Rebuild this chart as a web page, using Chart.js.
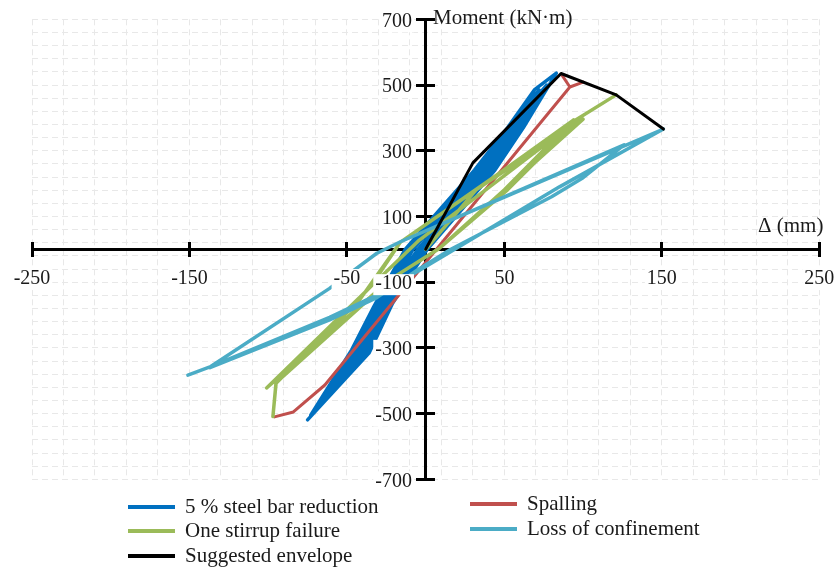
<!DOCTYPE html>
<html>
<head>
<meta charset="utf-8">
<style>
  html, body { margin: 0; padding: 0; background: #ffffff; }
  #wrap { width: 837px; height: 570px; }
</style>
<script src="https://cdn.jsdelivr.net/npm/chart.js@4.4.1/dist/chart.umd.min.js"></script>
</head>
<body>
<div id="wrap"><canvas id="chart" width="837" height="570"></canvas></div>
<script>
// Axis tick labels
const xTickLabels = [-250, -150, -50, 50, 150, 250];
const yTickLabels = [-700, -500, -300, -100, 100, 300, 500, 700];

// Series names (key order)
const seriesNames = ['5 % steel bar reduction', 'Spalling', 'One stirrup failure', 'Loss of confinement', 'Suggested envelope'];

// Δ (mm) / Moment (kN·m) paths for each damage case
const steelDelta = [
  0,
  12, 36, 57, 68,
  56, 38, 15, -5, -27, -42, -68,
  -43, -29, -8, 12, 35, 56, 70,
  58, 40, 17, -3, -25, -40, -70,
  -45, -31, -10, 10, 33, 54, 72,
  60, 42, 19, -1, -23, -38, -71,
  -46, -32, -11, 8, 32, 53, 77,
  61, 43, 20, 0, -22, -37, -73,
  -47, -33, -13, 7, 31, 52, 69, 83,
  62, 44, 21, 1, -21, -36, -75
];
const steelMoment = [
  0,
  110, 241, 370, 470,
  370, 241, 110, 0, -164, -316, -478,
  -306, -175, 0, 110, 241, 370, 475,
  370, 241, 110, 0, -164, -316, -485,
  -306, -175, 0, 110, 241, 370, 485,
  370, 241, 110, 0, -164, -316, -492,
  -306, -175, 0, 110, 241, 370, 500,
  370, 241, 110, 0, -164, -316, -505,
  -306, -175, 0, 110, 241, 370, 485, 536,
  370, 241, 110, 0, -164, -316, -519
];

const spallDelta  = [86.6, 91.6, 100, 91.6, -64, -84, -96];
const spallMoment = [530, 494, 509, 494, -413, -495, -510];

const stirrupDelta  = [0, 32, 94, 50, 9, -21, -95, -35, -4, 40, 97, 52, 9, -22, -101, -35, -16, 32, 100, 50, 8, -21, -95, -97, -95, -42, -16, 95, 121];
const stirrupMoment = [0, 181, 394, 181, 4, -87, -406, -114, 28, 188, 396, 181, 4, -90, -422, -114, 22, 181, 396, 181, 0, -87, -404, -509, -408, -154, 22, 393, 470];

const confinementDelta  = [-16, 151, 85, 18.5, -3.6, -31, -61, -137, -151, -137, -61, -31, -16, 126, 100, 80, 16, -5, -31, -61, -137];
const confinementMoment = [23, 366, 190, 0, -63, -139, -207, -358, -383, -358, -119, -12, 23, 318, 218, 160, 0, -62, -147, -215, -360];

const envelopeDelta  = [0, 30, 86, 121, 151];
const envelopeMoment = [0, 263, 535, 470, 366];

const X_MIN = -250, X_MAX = 250, Y_MIN = -700, Y_MAX = 700;

const serifFamily = "'Liberation Serif', 'Times New Roman', serif";
const textColor = '#1a1a1a';

function toPoints(dx, my) {
  return dx.map((d, i) => ({ x: d, y: my[i] }));
}

// light dashed background grid: every 20 mm and every 40 kN·m
const gridX = [];
for (let v = X_MIN; v <= X_MAX; v += 20) gridX.push(v);
const gridY = [];
for (let v = Y_MIN; v <= Y_MAX; v += 40) gridY.push(v);

function fixedTicks(values) {
  return scale => { scale.ticks = values.map(v => ({ value: v })); };
}

const seriesStyle = [
  { color: '#0070C0', width: 3.5, order: 5 },
  { color: '#C0504D', width: 3, order: 4 },
  { color: '#9BBB59', width: 3.5, order: 3 },
  { color: '#4BACC6', width: 3.5, order: 2 },
  { color: '#000000', width: 3, order: 1 }
];
const seriesData = [
  toPoints(steelDelta, steelMoment),
  toPoints(spallDelta, spallMoment),
  toPoints(stirrupDelta, stirrupMoment),
  toPoints(confinementDelta, confinementMoment),
  toPoints(envelopeDelta, envelopeMoment)
];

const datasets = seriesNames.map((name, i) => ({
  label: name,
  data: seriesData[i],
  showLine: true,
  borderColor: seriesStyle[i].color,
  backgroundColor: seriesStyle[i].color,
  borderWidth: seriesStyle[i].width,
  borderJoinStyle: 'round',
  borderCapStyle: 'round',
  pointRadius: 0,
  tension: 0,
  fill: false,
  order: seriesStyle[i].order
}));

// key layout: [column, row]
const keySlots = [[0, 0], [1, 0], [0, 1], [1, 1], [0, 2]];
const keyColX = [128, 470];
const keyRowY = [[507, 531, 556], [504, 529, 554]];

const keyAndTitles = {
  id: 'keyAndTitles',
  afterDraw(chart) {
    const ctx = chart.ctx;
    ctx.save();
    ctx.font = '21px ' + serifFamily;
    ctx.textBaseline = 'middle';
    ctx.textAlign = 'left';
    ctx.fillStyle = textColor;
    ctx.fillText('Moment (kN·m)', 433, 18);
    ctx.fillText('Δ (mm)', 758, 226);
    chart.data.datasets.forEach((ds, i) => {
      const [col, row] = keySlots[i];
      const x = keyColX[col];
      const y = keyRowY[col][row];
      ctx.strokeStyle = ds.borderColor;
      ctx.lineWidth = 4;
      ctx.lineCap = 'butt';
      ctx.beginPath();
      ctx.moveTo(x, y);
      ctx.lineTo(x + 47, y);
      ctx.stroke();
      ctx.fillStyle = textColor;
      ctx.fillText(ds.label, x + 57, y);
    });
    ctx.restore();
  }
};

const gridStyle = { color: '#e8e8e8', lineWidth: 1, drawTicks: false };
const labelTicks = {
  autoSkip: false,
  maxRotation: 0,
  minRotation: 0,
  padding: 0,
  color: textColor,
  font: { family: serifFamily, size: 20 },
  showLabelBackdrop: true,
  backdropColor: '#ffffff',
  backdropPadding: { top: -2, bottom: -1, left: 2, right: 2 },
  z: 1
};

new Chart(document.getElementById('chart'), {
  type: 'scatter',
  data: { datasets },
  plugins: [keyAndTitles],
  options: {
    responsive: false,
    animation: false,
    events: [],
    layout: { padding: { left: 32, right: 17.7, top: 19.3, bottom: 90.7 } },
    plugins: { legend: { display: false }, tooltip: { enabled: false } },
    scales: {
      x: {
        type: 'linear', min: X_MIN, max: X_MAX, position: { y: 0 },
        afterBuildTicks: fixedTicks(gridX),
        grid: gridStyle,
        border: { display: false, dash: [6, 4] },
        ticks: { display: false }
      },
      y: {
        type: 'linear', min: Y_MIN, max: Y_MAX, position: { x: 0 },
        afterBuildTicks: fixedTicks(gridY),
        grid: gridStyle,
        border: { display: false, dash: [6, 4] },
        ticks: { display: false }
      },
      // axis lines through the origin
      xAxisLine: {
        type: 'linear', axis: 'x', min: X_MIN, max: X_MAX, position: { y: 0 },
        afterBuildTicks: fixedTicks(xTickLabels),
        grid: { display: false, drawTicks: false },
        border: { display: true, color: '#000000', width: 3 },
        ticks: { display: false }
      },
      yAxisLine: {
        type: 'linear', axis: 'y', min: Y_MIN, max: Y_MAX, position: { x: 0 },
        afterBuildTicks: fixedTicks(yTickLabels),
        grid: { display: false, drawTicks: false },
        border: { display: true, color: '#000000', width: 3 },
        ticks: { display: false }
      },
      // tick marks crossing the axes
      xTickMarks: {
        type: 'linear', axis: 'x', min: X_MIN, max: X_MAX, position: { y: 23.1 },
        afterBuildTicks: fixedTicks(xTickLabels),
        grid: { display: true, drawOnChartArea: false, drawTicks: true, tickLength: 15, tickWidth: 3, tickColor: '#000000' },
        border: { display: false },
        ticks: { display: false }
      },
      yTickMarks: {
        type: 'linear', axis: 'y', min: Y_MIN, max: Y_MAX, position: { x: 5.9 },
        afterBuildTicks: fixedTicks(yTickLabels),
        grid: { display: true, drawOnChartArea: false, drawTicks: true, tickLength: 19, tickWidth: 3, tickColor: '#000000' },
        border: { display: false },
        ticks: { display: false }
      },
      // tick labels, drawn above the curves
      xLabels: {
        type: 'linear', axis: 'x', min: X_MIN, max: X_MAX, position: { y: -54 },
        afterBuildTicks: fixedTicks(xTickLabels),
        grid: { display: false, drawTicks: false, tickLength: 0 },
        border: { display: false },
        ticks: labelTicks
      },
      yLabels: {
        type: 'linear', axis: 'y', min: Y_MIN, max: Y_MAX, position: { x: -8.7 },
        afterBuildTicks: fixedTicks(yTickLabels),
        grid: { display: false, drawTicks: false, tickLength: 0 },
        border: { display: false },
        ticks: Object.assign({}, labelTicks, { labelOffset: 2 })
      }
    }
  }
});
</script>
</body>
</html>
